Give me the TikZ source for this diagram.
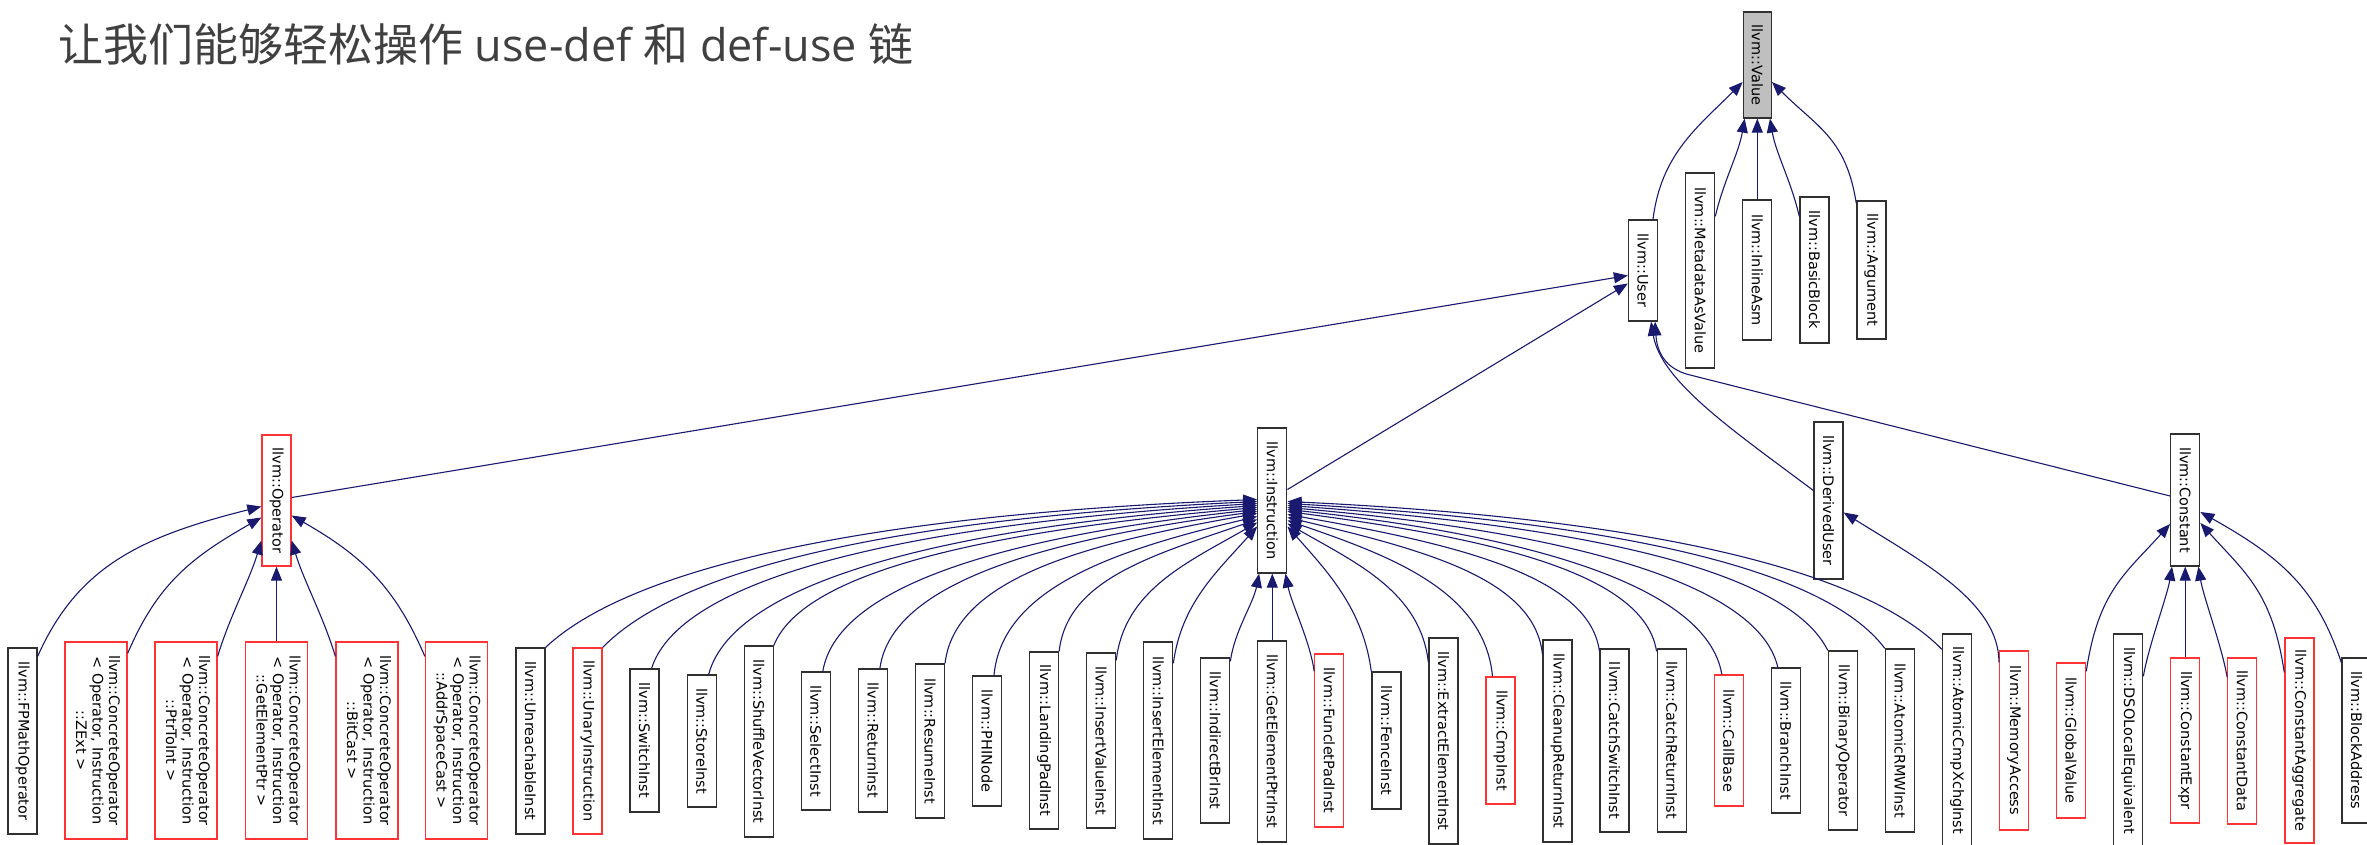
\documentclass[tikz,border=0pt]{standalone}
\usepackage{fontspec}
\usepackage{graphicx}
\usetikzlibrary{arrows.meta,calc}
\newfontfamily\djv{DejaVu Sans}
\newfontfamily\cjk{Noto Sans CJK SC}
\newfontfamily\lat{Open Sans}
\definecolor{edgeblue}{HTML}{191970}
\definecolor{nodeline}{HTML}{303030}
\definecolor{truncred}{HTML}{FF3333}
\definecolor{valuegray}{HTML}{BFBFBF}
\definecolor{titlegray}{HTML}{404040}
\tikzset{
  cls/.style={draw=nodeline, line width=1.3pt, fill=white, inner sep=0pt, text=black,
    font=\djv\fontsize{14.5}{16.5}\selectfont},
  trunc/.style={cls, draw=truncred},
  basecls/.style={cls, fill=valuegray},
  edge/.style={draw=edgeblue, line width=1.1pt, -{Triangle[length=14pt,width=11pt,fill=edgeblue]}},
}
\newcommand\mknode[6]{\node[#1, minimum width=#4pt, minimum height=#5pt] (#2) at (#3) {\rotatebox{-90}{#6}};}
\newcommand\cop[1]{\begin{tabular}{@{}c@{}}llvm::ConcreteOperator\\< Operator, Instruction\\#1 >\end{tabular}}
\begin{document}
\begin{tikzpicture}[x=1pt,y=-1pt]
\fill[white] (0,0) rectangle (2367,845);
\useasboundingbox (0,0) rectangle (2367,845);
\node[anchor=base west, inner sep=0pt, text=titlegray, font=\fontsize{45}{50}\selectfont] (title) at (58,62)
  {{\cjk 让我们能够轻松操作}{\lat{} use-def }{\cjk 和}{\lat{} def-use }{\cjk 链}};
% top
\mknode{basecls}{value}{1757.3,65}{28}{106}{llvm::Value}
\mknode{cls}{user}{1643,270.5}{29}{101}{llvm::User}
\mknode{cls}{meta}{1700.2,270.5}{29}{195}{llvm::MetadataAsValue}
\mknode{cls}{inlineasm}{1757.3,270}{29}{140}{llvm::InlineAsm}
\mknode{cls}{basicblock}{1814.4,270}{29}{146}{llvm::BasicBlock}
\mknode{cls}{argument}{1871.4,270}{29}{138}{llvm::Argument}
% middle
\mknode{trunc}{operator}{276.5,500.5}{29}{131}{llvm::Operator}
\mknode{cls}{instruction}{1272.3,500.5}{29}{145}{llvm::Instruction}
\mknode{cls}{deriveduser}{1828.5,500.5}{29}{157}{llvm::DerivedUser}
\mknode{cls}{constant}{2185.2,500}{29}{132}{llvm::Constant}
% bottom
\mknode{cls}{fpmath}{22.5,741}{29}{186}{llvm::FPMathOperator}
\mknode{trunc}{czext}{96,740.5}{62}{197}{\cop{::ZExt}}
\mknode{trunc}{cptrtoint}{186,740.5}{62}{197}{\cop{::PtrToInt}}
\mknode{trunc}{cgep}{276.5,740.5}{62}{197}{\cop{::GetElementPtr}}
\mknode{trunc}{cbitcast}{367,740.5}{62}{197}{\cop{::BitCast}}
\mknode{trunc}{caddrspace}{456.5,740.5}{62}{197}{\cop{::AddrSpaceCast}}
\mknode{cls}{unreach}{530.5,741}{29}{186}{llvm::UnreachableInst}
\mknode{trunc}{unary}{587.6,741}{29}{186}{llvm::UnaryInstruction}
\mknode{cls}{switch}{644.6,740.5}{29}{143}{llvm::SwitchInst}
\mknode{cls}{store}{701.7,741}{29}{132}{llvm::StoreInst}
\mknode{cls}{shuffle}{758.7,741.5}{29}{191}{llvm::ShuffleVectorInst}
\mknode{cls}{select}{815.8,741}{29}{138}{llvm::SelectInst}
\mknode{cls}{return}{872.9,740.5}{29}{143}{llvm::ReturnInst}
\mknode{cls}{resume}{929.9,741}{29}{154}{llvm::ResumeInst}
\mknode{cls}{phi}{987.0,741}{29}{130}{llvm::PHINode}
\mknode{cls}{landing}{1044.0,740.5}{29}{177}{llvm::LandingPadInst}
\mknode{cls}{insval}{1101.1,740.5}{29}{175}{llvm::InsertValueInst}
\mknode{cls}{inselem}{1158.2,740.5}{29}{197}{llvm::InsertElementInst}
\mknode{cls}{indbr}{1215.2,740.5}{29}{165}{llvm::IndirectBrInst}
\mknode{cls}{gepinst}{1272.3,741.5}{29}{201}{llvm::GetElementPtrInst}
\mknode{trunc}{funclet}{1329.3,740.5}{29}{173}{llvm::FuncletPadInst}
\mknode{cls}{fence}{1386.4,740.5}{29}{137}{llvm::FenceInst}
\mknode{cls}{extelem}{1443.5,741}{29}{206}{llvm::ExtractElementInst}
\mknode{trunc}{cmp}{1500.5,740.5}{29}{127}{llvm::CmpInst}
\mknode{cls}{cleanup}{1557.6,741}{29}{202}{llvm::CleanupReturnInst}
\mknode{cls}{catchsw}{1614.6,740.5}{29}{183}{llvm::CatchSwitchInst}
\mknode{cls}{catchret}{1671.7,740.5}{29}{183}{llvm::CatchReturnInst}
\mknode{trunc}{callbase}{1728.8,740.5}{29}{131}{llvm::CallBase}
\mknode{cls}{branch}{1785.8,740.5}{29}{145}{llvm::BranchInst}
\mknode{cls}{binop}{1842.9,740.5}{29}{179}{llvm::BinaryOperator}
\mknode{cls}{atomicrmw}{1899.9,740.5}{29}{183}{llvm::AtomicRMWInst}
\mknode{cls}{cmpxchg}{1957.0,740.5}{29}{213}{llvm::AtomicCmpXchgInst}
\mknode{trunc}{memacc}{2014.1,740.5}{29}{179}{llvm::MemoryAccess}
\mknode{trunc}{globalval}{2071.1,740.5}{29}{155}{llvm::GlobalValue}
\mknode{cls}{dsolocal}{2128.2,740.5}{29}{213}{llvm::DSOLocalEquivalent}
\mknode{trunc}{constexpr}{2185.2,740.5}{29}{165}{llvm::ConstantExpr}
\mknode{trunc}{constdata}{2242.3,741}{29}{166}{llvm::ConstantData}
\mknode{trunc}{constaggr}{2299.4,740.5}{29}{205}{llvm::ConstantAggregate}
\mknode{cls}{blockaddr}{2356.4,740.5}{29}{165}{llvm::BlockAddress}
% edges to Value
\draw[edge] ($(user.north)+(10,0)$) .. controls +(8,-65) and +(-45,45) .. ($(value.west)+(0,17)$);
\draw[edge] ($(meta.north east)+(0,44)$) .. controls +(8,-35) and +(-6,35) .. ($(value.south west)+(2,0)$);
\draw[edge] (inlineasm.north) -- (value.south);
\draw[edge] ($(basicblock.north west)+(0,20)$) .. controls +(-8,-35) and +(6,35) .. ($(value.south east)+(-2,0)$);
\draw[edge] ($(argument.north west)+(0,3)$) .. controls +(-10,-65) and +(45,45) .. ($(value.east)+(0,17)$);
% edges to User
\draw[edge] ($(operator.east)+(0,-3)$) -- ($(user.west)+(0,5)$);
\draw[edge] ($(instruction.east)+(0,-11)$) -- ($(user.west)+(0,13)$);
\draw[edge] ($(deriveduser.west)+(0,-10)$) .. controls +(-80,-60) and +(10,60) .. ($(user.south)+(8,0)$);
\draw[edge] ($(constant.west)+(0,-4)$) -- +(-480,-121) .. controls +(-25,-6) and +(2,30) .. ($(user.south)+(12,0)$);
% edge to DerivedUser
\draw[edge] ($(memacc.north west)+(0,12)$) .. controls +(0,-60) and +(80,50) .. ($(deriveduser.east)+(0,12)$);
% edges to Operator
\draw[edge] ($(fpmath.north east)+(0,9)$) .. controls +(40,-90) and +(-120,30) .. ($(operator.west)+(0,6)$);
\draw[edge] ($(czext.north east)+(0,12)$) .. controls +(30,-70) and +(-70,40) .. ($(operator.west)+(0,17)$);
\draw[edge] ($(cptrtoint.north east)+(0,15)$) .. controls +(12,-40) and +(-12,40) .. ($(operator.south west)+(0,-26)$);
\draw[edge] (cgep.north) -- (operator.south);
\draw[edge] ($(cbitcast.north west)+(0,15)$) .. controls +(-12,-40) and +(12,40) .. ($(operator.south east)+(0,-26)$);
\draw[edge] ($(caddrspace.north west)+(0,15)$) .. controls +(-30,-70) and +(70,40) .. ($(operator.east)+(0,15)$);
% edges to Instruction, left side
\draw[edge] (unreach.north east) .. controls +(85,-80) and +(-390,15) .. ($(instruction.west)+(0,-1)$);
\draw[edge] (unary.north east) .. controls +(78,-80) and +(-360,17) .. ($(instruction.west)+(0,1)$);
\draw[edge] ($(switch.north)+(7,0)$) .. controls +(30,-95) and +(-330,19) .. ($(instruction.west)+(0,3)$);
\draw[edge] ($(store.north)+(7,0)$) .. controls +(25,-95) and +(-300,21) .. ($(instruction.west)+(0,5)$);
\draw[edge] (shuffle.north east) .. controls +(30,-75) and +(-265,23) .. ($(instruction.west)+(0,7)$);
\draw[edge] ($(select.north)+(7,0)$) .. controls +(15,-90) and +(-235,25) .. ($(instruction.west)+(0,9)$);
\draw[edge] ($(return.north)+(7,0)$) .. controls +(12,-88) and +(-205,27) .. ($(instruction.west)+(0,11)$);
\draw[edge] (resume.north east) .. controls +(10,-85) and +(-172,30) .. ($(instruction.west)+(0,13)$);
\draw[edge] ($(phi.north)+(7,0)$) .. controls +(8,-88) and +(-140,33) .. ($(instruction.west)+(0,16)$);
\draw[edge] (landing.north east) .. controls +(8,-72) and +(-105,36) .. ($(instruction.west)+(0,19)$);
\draw[edge] ($(insval.north east)+(0,8)$) .. controls +(8,-70) and +(-70,40) .. ($(instruction.west)+(0,22)$);
\draw[edge] ($(inselem.north east)+(0,22)$) .. controls +(8,-60) and +(-40,45) .. ($(instruction.west)+(0,26)$);
% bottom
\draw[edge] ($(indbr.north east)+(0,4)$) .. controls +(4,-30) and +(-6,30) .. ($(instruction.south west)+(2,0)$);
\draw[edge] (gepinst.north) -- (instruction.south);
\draw[edge] ($(funclet.north west)+(0,18)$) .. controls +(-4,-30) and +(6,30) .. ($(instruction.south east)+(-2,0)$);
% right side
\draw[edge] (fence.north west) .. controls +(-8,-62) and +(40,45) .. ($(instruction.east)+(0,26)$);
\draw[edge] ($(extelem.north west)+(0,25)$) .. controls +(-8,-70) and +(70,40) .. ($(instruction.east)+(0,23)$);
\draw[edge] ($(cmp.north)+(-8,0)$) .. controls +(-8,-85) and +(105,36) .. ($(instruction.east)+(0,20)$);
\draw[edge] ($(cleanup.north west)+(0,15)$) .. controls +(-8,-75) and +(140,33) .. ($(instruction.east)+(0,17)$);
\draw[edge] ($(catchsw.north west)+(0,3)$) .. controls +(-10,-75) and +(172,30) .. ($(instruction.east)+(0,14)$);
\draw[edge] ($(catchret.north west)+(0,3)$) .. controls +(-12,-78) and +(205,27) .. ($(instruction.east)+(0,11)$);
\draw[edge] ($(callbase.north)+(-7,0)$) .. controls +(-15,-90) and +(235,25) .. ($(instruction.east)+(0,9)$);
\draw[edge] ($(branch.north)+(-8,0)$) .. controls +(-20,-88) and +(265,23) .. ($(instruction.east)+(0,7)$);
\draw[edge] (binop.north west) .. controls +(-40,-80) and +(300,21) .. ($(instruction.east)+(0,5)$);
\draw[edge] (atomicrmw.north west) .. controls +(-60,-80) and +(330,19) .. ($(instruction.east)+(0,3)$);
\draw[edge] ($(cmpxchg.north west)+(0,16)$) .. controls +(-78,-80) and +(360,17) .. ($(instruction.east)+(0,1)$);
% edges to Constant
\draw[edge] ($(globalval.north east)+(0,9)$) .. controls +(12,-80) and +(-45,50) .. ($(constant.west)+(0,24)$);
\draw[edge] ($(dsolocal.north east)+(0,43)$) .. controls +(5,-30) and +(-5,30) .. ($(constant.south west)+(2,0)$);
\draw[edge] (constexpr.north) -- (constant.south);
\draw[edge] ($(constdata.north west)+(0,20)$) .. controls +(-5,-30) and +(5,30) .. ($(constant.south east)+(-2,0)$);
\draw[edge] ($(constaggr.north west)+(0,35)$) .. controls +(-12,-80) and +(45,50) .. ($(constant.east)+(0,23)$);
\draw[edge] ($(blockaddr.north west)+(0,5)$) .. controls +(-25,-75) and +(80,45) .. ($(constant.east)+(0,12)$);
\end{tikzpicture}
\end{document}
